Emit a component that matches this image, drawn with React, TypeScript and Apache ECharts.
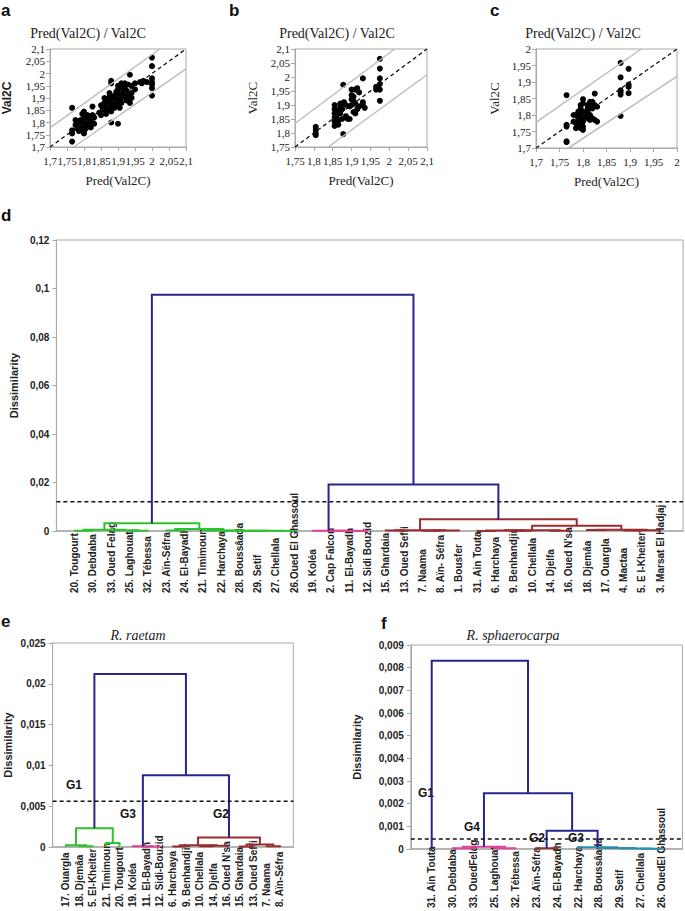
import React, { useEffect, useRef } from 'react';
import * as echarts from 'echarts';

// ---------- Panels a, b, c: Pred(Val2C) vs Val2C ----------
const pointsA: number[][] = [
  [1.765, 1.86], [1.765, 1.768], [1.765, 1.755], [1.765, 1.722],
  [1.775, 1.79], [1.78, 1.8], [1.78, 1.775], [1.785, 1.785], [1.785, 1.765], [1.79, 1.81], [1.79, 1.795], [1.79, 1.77],
  [1.795, 1.78], [1.795, 1.8], [1.8, 1.82], [1.8, 1.79], [1.8, 1.765], [1.8, 1.845], [1.805, 1.805], [1.805, 1.775],
  [1.81, 1.83], [1.81, 1.81], [1.81, 1.79], [1.815, 1.8], [1.815, 1.82], [1.82, 1.78], [1.82, 1.81], [1.825, 1.83],
  [1.825, 1.865], [1.83, 1.795], [1.83, 1.82], [1.8, 1.755], [1.785, 1.795], [1.775, 1.81], [1.795, 1.835],
  [1.845, 1.84], [1.85, 1.87], [1.85, 1.83], [1.855, 1.855], [1.86, 1.88], [1.86, 1.85], [1.86, 1.9], [1.865, 1.865],
  [1.865, 1.835], [1.87, 1.89], [1.87, 1.875], [1.87, 1.85], [1.875, 1.905], [1.875, 1.86], [1.875, 1.92], [1.88, 1.97],
  [1.88, 1.96], [1.88, 1.88], [1.88, 1.845], [1.88, 1.8], [1.885, 1.895], [1.885, 1.87], [1.89, 1.91], [1.89, 1.885],
  [1.89, 1.86], [1.895, 1.925], [1.895, 1.9], [1.9, 1.95], [1.9, 1.935], [1.9, 1.89], [1.9, 1.875], [1.9, 1.795],
  [1.905, 1.915], [1.905, 1.86], [1.91, 1.96], [1.91, 1.94], [1.91, 1.9], [1.91, 1.88], [1.915, 1.92], [1.92, 1.96],
  [1.92, 1.945], [1.92, 1.905], [1.925, 1.93], [1.925, 1.89], [1.93, 1.955], [1.93, 1.91], [1.935, 1.995], [1.935, 1.88],
  [1.94, 1.95], [1.94, 1.92], [1.94, 1.9], [1.95, 1.96], [1.95, 1.935],
  [1.965, 1.965], [1.97, 1.96], [1.975, 1.97], [1.985, 1.965], [2.0, 2.065], [2.0, 2.03], [2.0, 1.98], [2.0, 1.965],
  [2.0, 1.955], [2.0, 1.94], [2.0, 1.91],
];
const upperBandA = [[1.7, 1.778], [2.023, 2.1]];
const lowerBandA = [[1.77, 1.7], [2.1, 2.019]];

const pointsB: number[][] = [
  [1.805, 1.822], [1.805, 1.812], [1.805, 1.8], [1.805, 1.792],
  [1.855, 1.9], [1.855, 1.885], [1.855, 1.87], [1.855, 1.855], [1.855, 1.84], [1.855, 1.825],
  [1.86, 1.86], [1.865, 1.88], [1.865, 1.845], [1.865, 1.83],
  [1.87, 1.905], [1.87, 1.895], [1.87, 1.87], [1.875, 1.885], [1.875, 1.85],
  [1.878, 1.972], [1.878, 1.796],
  [1.88, 1.91], [1.885, 1.9], [1.885, 1.86], [1.89, 1.85], [1.895, 1.895], [1.895, 1.85],
  [1.9, 1.955], [1.9, 1.935], [1.9, 1.92], [1.9, 1.9], [1.905, 1.93], [1.905, 1.915], [1.905, 1.875],
  [1.91, 1.955], [1.91, 1.905], [1.91, 1.87], [1.915, 1.96], [1.915, 1.885], [1.92, 1.945], [1.92, 1.895],
  [1.93, 1.995], [1.93, 1.91], [1.93, 1.9], [1.935, 1.89],
  [1.965, 1.955], [1.965, 1.965], [1.97, 1.96],
  [1.975, 2.065], [1.975, 2.03], [1.975, 1.995], [1.975, 1.975], [1.975, 1.955], [1.975, 1.915],
];
const upperBandB = [[1.75, 1.834], [2.014, 2.1]];
const lowerBandB = [[1.838, 1.75], [2.1, 2.008]];

const pointsC: number[][] = [
  [1.765, 1.86], [1.765, 1.77], [1.765, 1.765], [1.765, 1.72], [1.765, 1.718],
  [1.78, 1.8], [1.78, 1.78], [1.785, 1.775], [1.785, 1.76], [1.785, 1.8],
  [1.79, 1.79], [1.79, 1.775], [1.79, 1.81], [1.795, 1.83], [1.795, 1.82], [1.795, 1.8], [1.795, 1.785], [1.795, 1.77], [1.795, 1.76],
  [1.8, 1.848], [1.8, 1.835], [1.8, 1.81], [1.8, 1.795], [1.8, 1.78], [1.8, 1.765], [1.8, 1.755],
  [1.805, 1.8], [1.81, 1.82], [1.81, 1.83], [1.81, 1.81], [1.81, 1.79],
  [1.815, 1.84], [1.815, 1.825], [1.815, 1.8], [1.815, 1.785],
  [1.82, 1.84], [1.82, 1.83], [1.82, 1.82], [1.82, 1.79], [1.825, 1.865], [1.825, 1.83], [1.825, 1.785], [1.83, 1.825], [1.83, 1.78],
  [1.88, 1.958], [1.88, 1.914], [1.88, 1.875], [1.88, 1.87], [1.88, 1.862], [1.88, 1.797],
  [1.897, 1.94], [1.897, 1.892], [1.897, 1.885], [1.897, 1.866],
];
const upperBandC = [[1.7, 1.778], [1.924, 2.0]];
const lowerBandC = [[1.769, 1.7], [2.0, 1.917]];

// ---------- Dendrograms ----------
const GREEN = '#2fc22f';
const PINK = '#e2409b';
const RED = '#9c2b2d';
const BLUE = '#26268c';
const TEAL = '#2a8db3';

const leavesD = [
  '20. Tougourt', '30. Debdaba', '33. Oued Felag', '25. Laghouat', '32. Tébessa', '23. Aïn-Séfra', '24. El-Bayadh',
  '21. Timimoun', '22. Harchaya', '28. Boussâada', '29. Setif', '27. Chellala', '26.Oued El Ghassoul', '19. Koléa',
  '2. Cap Falcon', '11. El-Bayadh', '12. Sidi Bouzid', '15. Ghardaia', '13. Oued Seffi', '7. Naama', '8. Aïn- Séfra',
  '1. Bousfer', '31. Ain Touta', '6. Harchaya', '9. Benhandjir', '10. Chellala', '14. Djelfa', "16. Oued N'sa",
  '18. Djemâa', '17. Ouargla', '4. Mactaa', '5. E l-Kheiter', '3. Marsat El Hadjaj',
];
// [id, left, right, height, colour]; numbers are leaf indices, strings are earlier merges
const mergesD: [string, number | string, number | string, number, string][] = [
  ['g1', 0, 1, 0.0001, GREEN], ['g2', 3, 4, 0.0001, GREEN], ['g3', 2, 'g2', 0.0003, GREEN], ['g4', 'g1', 'g3', 0.0005, GREEN],
  ['g5', 5, 6, 0.0002, GREEN], ['g6', 9, 10, 0.00005, GREEN], ['g7', 11, 12, 0.00005, GREEN], ['g8', 'g6', 'g7', 0.0001, GREEN],
  ['g9', 8, 'g8', 0.00015, GREEN], ['g10', 7, 'g9', 0.0002, GREEN], ['g11', 'g5', 'g10', 0.0008, GREEN], ['g12', 'g4', 'g11', 0.0032, GREEN],
  ['p1', 15, 16, 0.00005, PINK], ['p2', 14, 'p1', 0.0001, PINK], ['p3', 13, 'p2', 0.00015, PINK],
  ['r1', 17, 18, 0.0002, RED], ['r2', 19, 20, 0.0001, RED], ['r3', 'r2', 21, 0.0002, RED], ['r4', 'r1', 'r3', 0.0003, RED],
  ['r5', 22, 23, 0.00005, RED], ['r6', 24, 25, 0.0001, RED], ['r7', 'r5', 'r6', 0.0002, RED], ['r8', 26, 27, 0.0001, RED],
  ['r9', 'r7', 'r8', 0.0003, RED], ['r10', 28, 29, 0.0004, RED], ['r11', 30, 31, 0.0002, RED], ['r12', 'r11', 32, 0.0003, RED],
  ['r13', 'r10', 'r12', 0.0005, RED], ['r14', 'r9', 'r13', 0.0022, RED], ['r15', 'r4', 'r14', 0.0048, RED],
  ['b1', 'p3', 'r15', 0.0192, BLUE], ['b2', 'g12', 'b1', 0.0974, BLUE],
];
const thresholdD = 0.0121;
const yTicksD = { max: 0.12, interval: 0.02 };

const leavesE = [
  '17. Ouargla', '18. Djemâa', '5. El-Kheiter', '21. Timimoun', '20. Tougourt', '19. Koléa', '11. El-Bayadh', '12. Sidi-Bouzid',
  '6. Harchaya', '9. Benhandjir', '10. Chellala', '14. Djelfa', "16. Oued N'sa", '15. Ghardaia', '13. Oued Seffi', '7. Naama', '8. Aïn-Séfra',
];
const mergesE: [string, number | string, number | string, number, string][] = [
  ['g1', 1, 2, 0.0001, GREEN], ['g2', 0, 'g1', 0.0002, GREEN], ['g3', 3, 4, 0.0005, GREEN], ['g4', 'g2', 'g3', 0.0023, GREEN],
  ['p1', 6, 7, 0.00005, PINK], ['p2', 5, 'p1', 0.0001, PINK],
  ['r1', 8, 9, 0.00005, RED], ['r2', 10, 11, 0.0001, RED], ['r3', 'r2', 12, 0.00015, RED], ['r4', 'r1', 'r3', 0.0002, RED],
  ['r5', 13, 14, 0.00005, RED], ['r6', 15, 16, 0.0001, RED], ['r7', 'r5', 'r6', 0.0003, RED], ['r8', 'r4', 'r7', 0.00115, RED],
  ['b1', 'p2', 'r8', 0.0088, BLUE], ['b2', 'g4', 'b1', 0.0212, BLUE],
];
const thresholdE = 0.0056;
const yTicksE = { max: 0.025, interval: 0.005 };

const leavesF = [
  '31. Ain Touta', '30. Debdaba', '33. OuedFelag', '25. Laghouat', '32. Tébessa', '23. Aïn-Séfra', '24. El-Bayadh',
  '22. Harchaya', '28. Boussâada', '29. Setif', '27. Chellala', '26. OuedEl Ghassoul',
];
const mergesF: [string, number | string, number | string, number, string][] = [
  ['p1', 1, 2, 0.00003, PINK], ['p2', 3, 4, 0.00003, PINK], ['p3', 'p1', 'p2', 0.0001, PINK],
  ['d1', 5, 6, 0.00003, RED],
  ['t1', 10, 11, 0.00001, TEAL], ['t2', 9, 't1', 0.00002, TEAL], ['t3', 8, 't2', 0.00004, TEAL], ['t4', 7, 't3', 0.00008, TEAL],
  ['b1', 'd1', 't4', 0.0008, BLUE], ['b2', 'p3', 'b1', 0.00246, BLUE], ['b3', 0, 'b2', 0.0083, BLUE],
];
const thresholdF = 0.00044;
const yTicksF = { max: 0.009, interval: 0.001 };

// ---------- helpers ----------
const comma = (v: number) => String(parseFloat(Number(v).toFixed(4))).replace('.', ',');
const SERIF = '"Liberation Serif", "DejaVu Serif", serif';
const SANS = '"Liberation Sans", Arial, sans-serif';
const GRAY = '#a9a9a9';

function buildLinks(merges: [string, number | string, number | string, number, string][]) {
  const pos: Record<string, number> = {};
  const hgt: Record<string, number> = {};
  const get = (r: number | string) => (typeof r === 'number' ? [r, 0] : [pos[r], hgt[r]]);
  return merges.map(([id, l, r, h, c]) => {
    const [xl, hl] = get(l);
    const [xr, hr] = get(r);
    pos[id] = (xl + xr) / 2;
    hgt[id] = h;
    return { value: [xl, hl, xr, hr, h], color: c };
  });
}

export default function App() {
  const ref = useRef<HTMLDivElement>(null);
  useEffect(() => {
    if (!ref.current) return;
    const chart = echarts.init(ref.current, null, { renderer: 'svg' });

    const grids: any[] = [
      { left: 49, top: 49, width: 137, height: 98 },
      { left: 295, top: 49, width: 132, height: 98 },
      { left: 536, top: 49, width: 141, height: 99 },
      { left: 50.5, top: 240, width: 632.6, height: 291 },
      { left: 52.6, top: 643, width: 240.75, height: 204 },
      { left: 410.8, top: 645, width: 271.7, height: 204 },
    ].map((g) => ({ ...g, show: true, borderColor: GRAY, borderWidth: 1, backgroundColor: 'transparent', containLabel: false }));

    const xAxes: any[] = [];
    const yAxes: any[] = [];
    const series: any[] = [];

    const scatterPanel = (
      gi: number, pts: number[][], up: number[][], lo: number[][], min: number, max: number,
      yName: string, yNameStyle: any, yNameGap: number,
    ) => {
      const axisCommon = {
        type: 'value', min, max, interval: 0.05, gridIndex: gi,
        axisLine: { show: true, onZero: false, lineStyle: { color: GRAY } },
        axisTick: { show: true, length: 4, lineStyle: { color: GRAY } },
        splitLine: { show: false },
        axisLabel: { formatter: comma, fontFamily: SERIF, fontSize: 11, color: '#222' },
      };
      xAxes.push({
        ...axisCommon, axisLabel: { ...axisCommon.axisLabel, margin: 8 },
        name: 'Pred(Val2C)', nameLocation: 'middle', nameGap: 27,
        nameTextStyle: { fontFamily: SERIF, fontSize: 13, color: '#222' },
      });
      yAxes.push({
        ...axisCommon, axisLabel: { ...axisCommon.axisLabel, margin: 5 },
        name: yName, nameLocation: 'middle', nameGap: yNameGap, nameTextStyle: yNameStyle,
      });
      const ai = xAxes.length - 1;
      series.push(
        { type: 'line', xAxisIndex: ai, yAxisIndex: ai, data: up, symbol: 'none', lineStyle: { color: '#bdbdbd', width: 1.5 }, silent: true },
        { type: 'line', xAxisIndex: ai, yAxisIndex: ai, data: lo, symbol: 'none', lineStyle: { color: '#bdbdbd', width: 1.5 }, silent: true },
        { type: 'line', xAxisIndex: ai, yAxisIndex: ai, data: [[min, min], [max, max]], symbol: 'none', lineStyle: { color: '#111', width: 1.3, type: [4, 3] }, silent: true },
        { type: 'scatter', xAxisIndex: ai, yAxisIndex: ai, data: pts, symbolSize: 6, itemStyle: { color: '#000', opacity: 1 } },
      );
    };

    scatterPanel(0, pointsA, upperBandA, lowerBandA, 1.7, 2.1, 'Val2C',
      { fontFamily: SANS, fontWeight: 'bold', fontSize: 12, color: '#222' }, 37);
    scatterPanel(1, pointsB, upperBandB, lowerBandB, 1.75, 2.1, 'Val2C',
      { fontFamily: SERIF, fontSize: 13, color: '#222' }, 36);
    scatterPanel(2, pointsC, upperBandC, lowerBandC, 1.7, 2.0, 'Val2C',
      { fontFamily: SERIF, fontSize: 13, color: '#222' }, 35);

    const dendroPanel = (
      gi: number, leaves: string[], merges: any[], threshold: number, yt: { max: number; interval: number },
      xMax: number, labelMargin: number, nameGap: number,
    ) => {
      xAxes.push({
        type: 'value', gridIndex: gi, min: -1, max: xMax, interval: 1,
        axisLine: { show: true, onZero: false, lineStyle: { color: GRAY, width: 1.5 } },
        axisTick: { show: false }, splitLine: { show: false },
        axisLabel: {
          rotate: 90, align: 'left', margin: labelMargin, fontFamily: SANS, fontWeight: 'bold', fontSize: 10, color: '#222',
          showMinLabel: true, showMaxLabel: true,
          formatter: (v: number) => {
            const i = Math.round(v);
            return Math.abs(v - i) < 1e-6 && i >= 0 && i < leaves.length ? leaves[i] : '';
          },
        },
      });
      yAxes.push({
        type: 'value', gridIndex: gi, min: 0, max: yt.max, interval: yt.interval,
        axisLine: { show: true, onZero: false, lineStyle: { color: GRAY } },
        axisTick: { show: true, length: 4, lineStyle: { color: GRAY } },
        splitLine: { show: false },
        axisLabel: { formatter: comma, fontFamily: SANS, fontWeight: 'bold', fontSize: 10, color: '#222', margin: 7 },
        name: 'Dissimilarity', nameLocation: 'middle', nameGap,
        nameTextStyle: { fontFamily: SANS, fontWeight: 'bold', fontSize: 11, color: '#222' },
      });
      const ai = xAxes.length - 1;
      const links = buildLinks(merges);
      series.push({
        type: 'line', xAxisIndex: ai, yAxisIndex: ai, data: [[-1, threshold], [xMax, threshold]], symbol: 'none',
        lineStyle: { color: '#111', width: 1.5, type: [4, 3] }, silent: true, z: 3,
      });
      series.push({
        type: 'custom', xAxisIndex: ai, yAxisIndex: ai, z: 2, silent: true,
        data: links.map((l) => l.value),
        encode: { x: [0, 2], y: [1, 3, 4] },
        renderItem: (params: any, api: any) => {
          const p1 = api.coord([api.value(0), api.value(1)]);
          const p2 = api.coord([api.value(0), api.value(4)]);
          const p3 = api.coord([api.value(2), api.value(4)]);
          const p4 = api.coord([api.value(2), api.value(3)]);
          return {
            type: 'polyline',
            shape: { points: [p1, p2, p3, p4] },
            style: { stroke: links[params.dataIndex].color, fill: 'none', lineWidth: 2 },
          };
        },
      });
    };

    dendroPanel(3, leavesD, mergesD, thresholdD, yTicksD, 33.25, 62, 37);
    dendroPanel(4, leavesE, mergesE, thresholdE, yTicksE, 17, 60, 39);
    dendroPanel(5, leavesF, mergesF, thresholdF, yTicksF, 12, 59, 48);

    const letter = (t: string, x: number, y: number) => ({
      type: 'text', x, y,
      style: { text: t, fontFamily: SANS, fontWeight: 'bold', fontSize: 17, fill: '#111', textAlign: 'left', textVerticalAlign: 'middle' },
    });
    const title = (t: string, x: number, y: number, italic = false) => ({
      type: 'text', x, y,
      style: {
        text: t, fontFamily: SERIF, fontSize: 14, fontStyle: italic ? 'italic' : 'normal', fill: '#222',
        textAlign: 'center', textVerticalAlign: 'middle',
      },
    });
    const gLabel = (t: string, x: number, y: number) => ({
      type: 'text', x, y,
      style: { text: t, fontFamily: SANS, fontWeight: 'bold', fontSize: 12, fill: '#111', textAlign: 'center', textVerticalAlign: 'middle' },
    });

    chart.setOption({
      animation: false,
      grid: grids,
      xAxis: xAxes,
      yAxis: yAxes,
      series,
      graphic: [
        letter('a', 1, 10), letter('b', 229, 10), letter('c', 490, 10),
        letter('d', 1, 215), letter('e', 1, 621), letter('f', 381, 623),
        title('Pred(Val2C) / Val2C', 88, 33), title('Pred(Val2C) / Val2C', 337, 33), title('Pred(Val2C) / Val2C', 583, 33),
        title('R. raetam', 138, 635, true), title('R. sphaerocarpa', 513, 635, true),
        gLabel('G1', 74, 785), gLabel('G3', 128, 814), gLabel('G2', 221, 814),
        gLabel('G1', 426, 793), gLabel('G4', 472, 827), gLabel('G2', 537, 838), gLabel('G3', 576, 838),
      ],
    });
    return () => chart.dispose();
  }, []);
  return <div ref={ref} style={{ position: 'fixed', left: 0, top: 0, width: 685, height: 911, background: '#fff' }} />;
}
